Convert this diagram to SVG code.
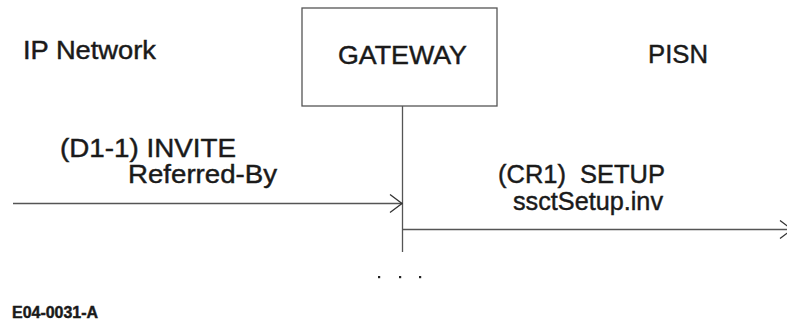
<svg xmlns="http://www.w3.org/2000/svg" width="787" height="327" viewBox="0 0 787 327">
<style>
text{font-family:"Liberation Sans",Arial,sans-serif;fill:#1a1a1a;stroke:#1a1a1a;stroke-width:0.45}
.big{font-size:26px}
.ln{stroke:#555;stroke-width:1.3;fill:none}
.dot{fill:#222}
</style>
<defs>
<marker id="arr" markerUnits="userSpaceOnUse" markerWidth="16" markerHeight="22" refX="13" refY="10" orient="auto" viewBox="0 0 16 22">
<path d="M1,1 L13,10 L1,19" fill="none" stroke="#333" stroke-width="1.3"/>
</marker>
</defs>
<rect width="787" height="327" fill="#fff"/>
<g id="ip-network"><text class="big" x="23" y="59" textLength="133" lengthAdjust="spacingAndGlyphs" font-size="25">IP Network</text></g>
<g id="gateway">
<rect class="ln" x="302" y="8" width="195" height="98"/>
<text class="big" x="338" y="64" textLength="129" lengthAdjust="spacingAndGlyphs">GATEWAY</text>
</g>
<g id="pisn"><text class="big" x="648" y="63" textLength="60" lengthAdjust="spacingAndGlyphs">PISN</text></g>
<g id="connectors">
<line class="ln" x1="402.5" y1="106" x2="402.5" y2="252"/>
<line class="ln" x1="13" y1="203.5" x2="402" y2="203.5" marker-end="url(#arr)"/>
<line class="ln" x1="402" y1="229.5" x2="792" y2="229.5" marker-end="url(#arr)"/>
</g>
<g id="labels">
<text class="big" x="60" y="157" textLength="176" lengthAdjust="spacingAndGlyphs" font-size="27">(D1-1) INVITE</text>
<text class="big" x="128" y="183" textLength="149" lengthAdjust="spacingAndGlyphs" font-size="27">Referred-By</text>
<text class="big" x="498" y="183" textLength="167" lengthAdjust="spacingAndGlyphs" xml:space="preserve">(CR1)  SETUP</text>
<text class="big" x="513" y="210" textLength="150" lengthAdjust="spacingAndGlyphs">ssctSetup.inv</text>
</g>
<g id="ellipsis">
<rect class="dot" x="378" y="276" width="2.2" height="2.2"/>
<rect class="dot" x="399" y="276" width="2.2" height="2.2"/>
<rect class="dot" x="419" y="276" width="2.2" height="2.2"/>
</g>
<text x="12" y="318" font-size="16" font-weight="bold" stroke-width="0.2" textLength="86" lengthAdjust="spacingAndGlyphs">E04-0031-A</text>
</svg>
